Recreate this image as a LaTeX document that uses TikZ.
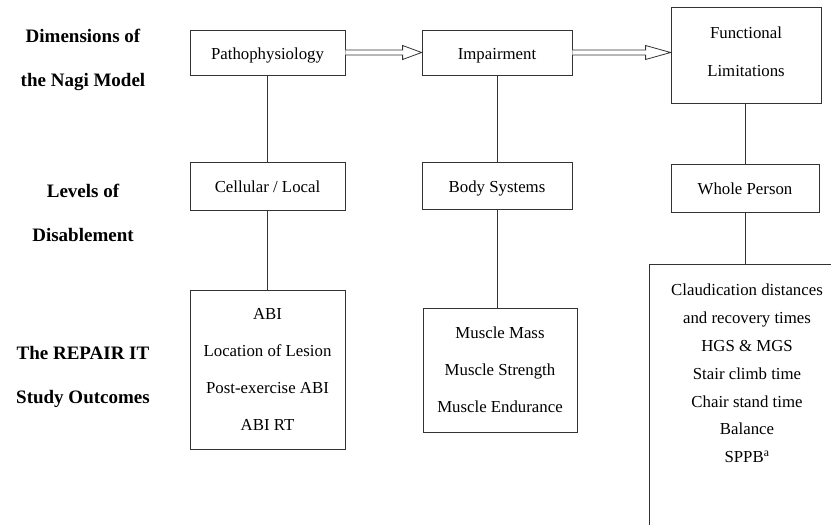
\documentclass[tikz,border=0pt]{standalone}
\usepackage{fontspec}
\setmainfont{Liberation Serif}
\usetikzlibrary{calc}
\tikzset{
  x=1bp, y=-1bp,
  ln/.style={line width=0.8bp, draw=black!80},
  box/.style={ln, rectangle, inner sep=0pt,
    font=\fontsize{16.8bp}{20bp}\selectfont, text height=16.5bp, text depth=3bp},
  mbox/.style={ln, rectangle, inner sep=0pt, align=center,
    font=\fontsize{16.8bp}{37bp}\selectfont},
  lbl/.style={align=center, inner sep=0pt,
    font=\fontsize{19bp}{44bp}\selectfont\bfseries},
  txt/.style={align=center, inner sep=0pt,
    font=\fontsize{16.8bp}{27.8bp}\selectfont},
  dblarrow/.style={ln, fill=white}
}
\begin{document}
\begin{tikzpicture}
\clip (0,0) rectangle (831,525);
\fill[white] (0,0) rectangle (831,525);

% row labels
\node[lbl] (l1) at (83,60) {Dimensions of\\the Nagi Model};
\node[lbl] (l2) at (83,212.5) {Levels of\\Disablement};
\node[lbl] (l3) at (83,377) {The REPAIR IT\\Study Outcomes};

% top row
\node[box, minimum width=155bp, minimum height=45bp] (patho) at (267.5,52.5) {Pathophysiology};
\node[box, minimum width=150bp, minimum height=45bp] (imp) at (497,52.5) {Impairment};
\node[ln, rectangle, minimum width=150bp, minimum height=96bp] (func) at (746,55) {};
\node[txt, font=\fontsize{16.8bp}{38bp}\selectfont] (functxt) at (746,52) {Functional\\Limitations};

% middle row
\node[box, minimum width=155bp, minimum height=48bp] (cell) at (267.5,186) {Cellular / Local};
\node[box, minimum width=150bp, minimum height=47bp] (body) at (497,185.5) {Body Systems};
\node[box, minimum width=148bp, minimum height=48bp] (whole) at (745,188) {Whole Person};

% bottom row
\node[mbox, minimum width=155bp, minimum height=159bp] (out1) at (267.5,369.5)
  {ABI\\Location of Lesion\\Post-exercise ABI\\ABI RT};
\node[mbox, minimum width=154bp, minimum height=124bp] (out2) at (500,370)
  {Muscle Mass\\Muscle Strength\\Muscle Endurance};
\node[txt] (out3) at (747,373.5)
  {Claudication distances\\and recovery times\\HGS \& MGS\\Stair climb time\\Chair stand time\\Balance\\SPPB\textsuperscript{a}};
\draw[ln] (850,264) -- (649,264) -- (649,545);
\coordinate (out3top) at (745,264);

% vertical connectors
\draw[ln] (patho.south) -- (cell.north);
\draw[ln] (cell.south) -- (out1.north);
\draw[ln] (imp.south) -- (body.north);
\draw[ln] (body.south) -- (body.south |- out2.north);
\draw[ln] (func.south -| whole.north) -- (whole.north);
\draw[ln] (whole.south) -- (out3top);

% double (hollow) arrows
\coordinate (tip2) at (func.west |- imp.east);
\draw[dblarrow] ($(patho.east)+(0,-2.5)$) -- ($(imp.west)+(-19,-2.5)$)
  -- ($(imp.west)+(-19,-7)$) -- (imp.west) -- ($(imp.west)+(-19,7)$)
  -- ($(imp.west)+(-19,2.5)$) -- ($(patho.east)+(0,2.5)$);
\draw[dblarrow] ($(imp.east)+(0,-2.5)$) -- ($(tip2)+(-25,-2.5)$)
  -- ($(tip2)+(-25,-7)$) -- (tip2) -- ($(tip2)+(-25,7)$)
  -- ($(tip2)+(-25,2.5)$) -- ($(imp.east)+(0,2.5)$);
\end{tikzpicture}
\end{document}
